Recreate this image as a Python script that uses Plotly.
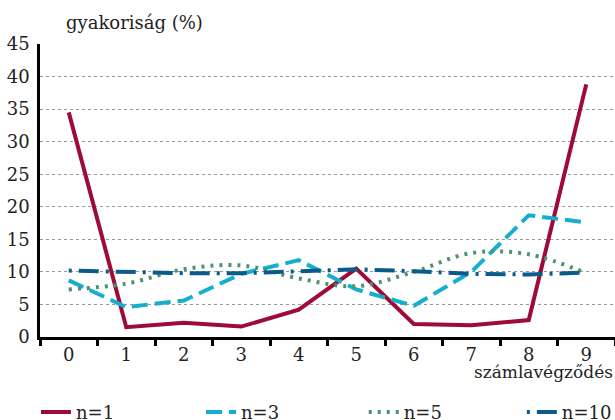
import plotly.graph_objects as go

categories = ["0", "1", "2", "3", "4", "5", "6", "7", "8", "9"]
n1 = [34.5, 1.5, 2.2, 1.6, 4.2, 10.5, 2.0, 1.8, 2.6, 38.8]
n3 = [8.7, 4.6, 5.6, 9.7, 11.8, 7.3, 4.8, 10.0, 18.7, 17.6]
n5 = [7.3, 8.2, 10.4, 11.0, 9.0, 7.8, 10.0, 12.9, 12.7, 9.8]
n10 = [10.2, 10.0, 9.8, 9.8, 10.1, 10.4, 10.1, 9.7, 9.6, 9.9]
series_names = ["n=1", "n=3", "n=5", "n=10"]
y_ticks = [0, 5, 10, 15, 20, 25, 30, 35, 40, 45]

FONT = "DejaVu Serif"

fig = go.Figure()
fig.add_trace(go.Scatter(x=categories, y=n1, name=series_names[0], mode="lines", legend="legend",
                         line=dict(color="#9E0B36", width=4)))
fig.add_trace(go.Scatter(x=categories, y=n3, name=series_names[1], mode="lines", legend="legend2",
                         line=dict(color="#14AECE", width=4, dash="16px,7px")))
fig.add_trace(go.Scatter(x=categories, y=n5, name=series_names[2], mode="lines", legend="legend3",
                         line=dict(color="#4E9273", width=4, dash="3px,6px", shape="spline", smoothing=1)))
fig.add_trace(go.Scatter(x=categories, y=n10, name=series_names[3], mode="lines", legend="legend4",
                         line=dict(color="#0B5A8C", width=4, dash="3px,7px,20px,7px")))

def leg(x):
    return dict(orientation="h", x=x, xanchor="left", y=-0.194, yanchor="top",
                font=dict(family=FONT, size=18, color="#222"), bgcolor="rgba(0,0,0,0)")

fig.update_layout(
    width=615, height=420,
    margin=dict(l=40, r=0, t=44, b=83, autoexpand=False),
    paper_bgcolor="white", plot_bgcolor="white",
    font=dict(family=FONT, size=18, color="#222"),
    showlegend=True,
    legend=leg(-0.007),
    legend2=leg(0.28),
    legend3=leg(0.563),
    legend4=leg(0.838),
    xaxis=dict(type="category", range=[-0.5, 9.5], showgrid=False,
               showline=True, linecolor="black", linewidth=2.5,
               ticks="outside", tickson="boundaries", ticklen=6, tickwidth=2.5,
               tickcolor="black", tickfont=dict(family=FONT, size=18), zeroline=False),
    yaxis=dict(range=[0, 45], tickvals=y_ticks, showgrid=True, gridcolor="#9a9a9a",
               griddash="dot", gridwidth=1, showline=True, linecolor="black",
               linewidth=2.5, ticks="", tickfont=dict(family=FONT, size=18), zeroline=False,
               ticklabelstandoff=4),
    annotations=[
        dict(text="gyakoriság (%)", xref="paper", yref="paper", x=-0.005, y=1.0,
             xanchor="left", yanchor="bottom", showarrow=False,
             font=dict(family=FONT, size=18, color="#222"), yshift=9, xshift=27),
        dict(text="számlavégződés", xref="paper", yref="paper", x=1.0, y=0,
             xanchor="right", yanchor="top", showarrow=False,
             font=dict(family=FONT, size=17, color="#222"), yshift=-23),
    ],
)

fig.write_html(
    "out.html",
    config={"displayModeBar": False},
    post_script="document.body.style.margin='0';document.body.style.overflow='hidden';",
)
